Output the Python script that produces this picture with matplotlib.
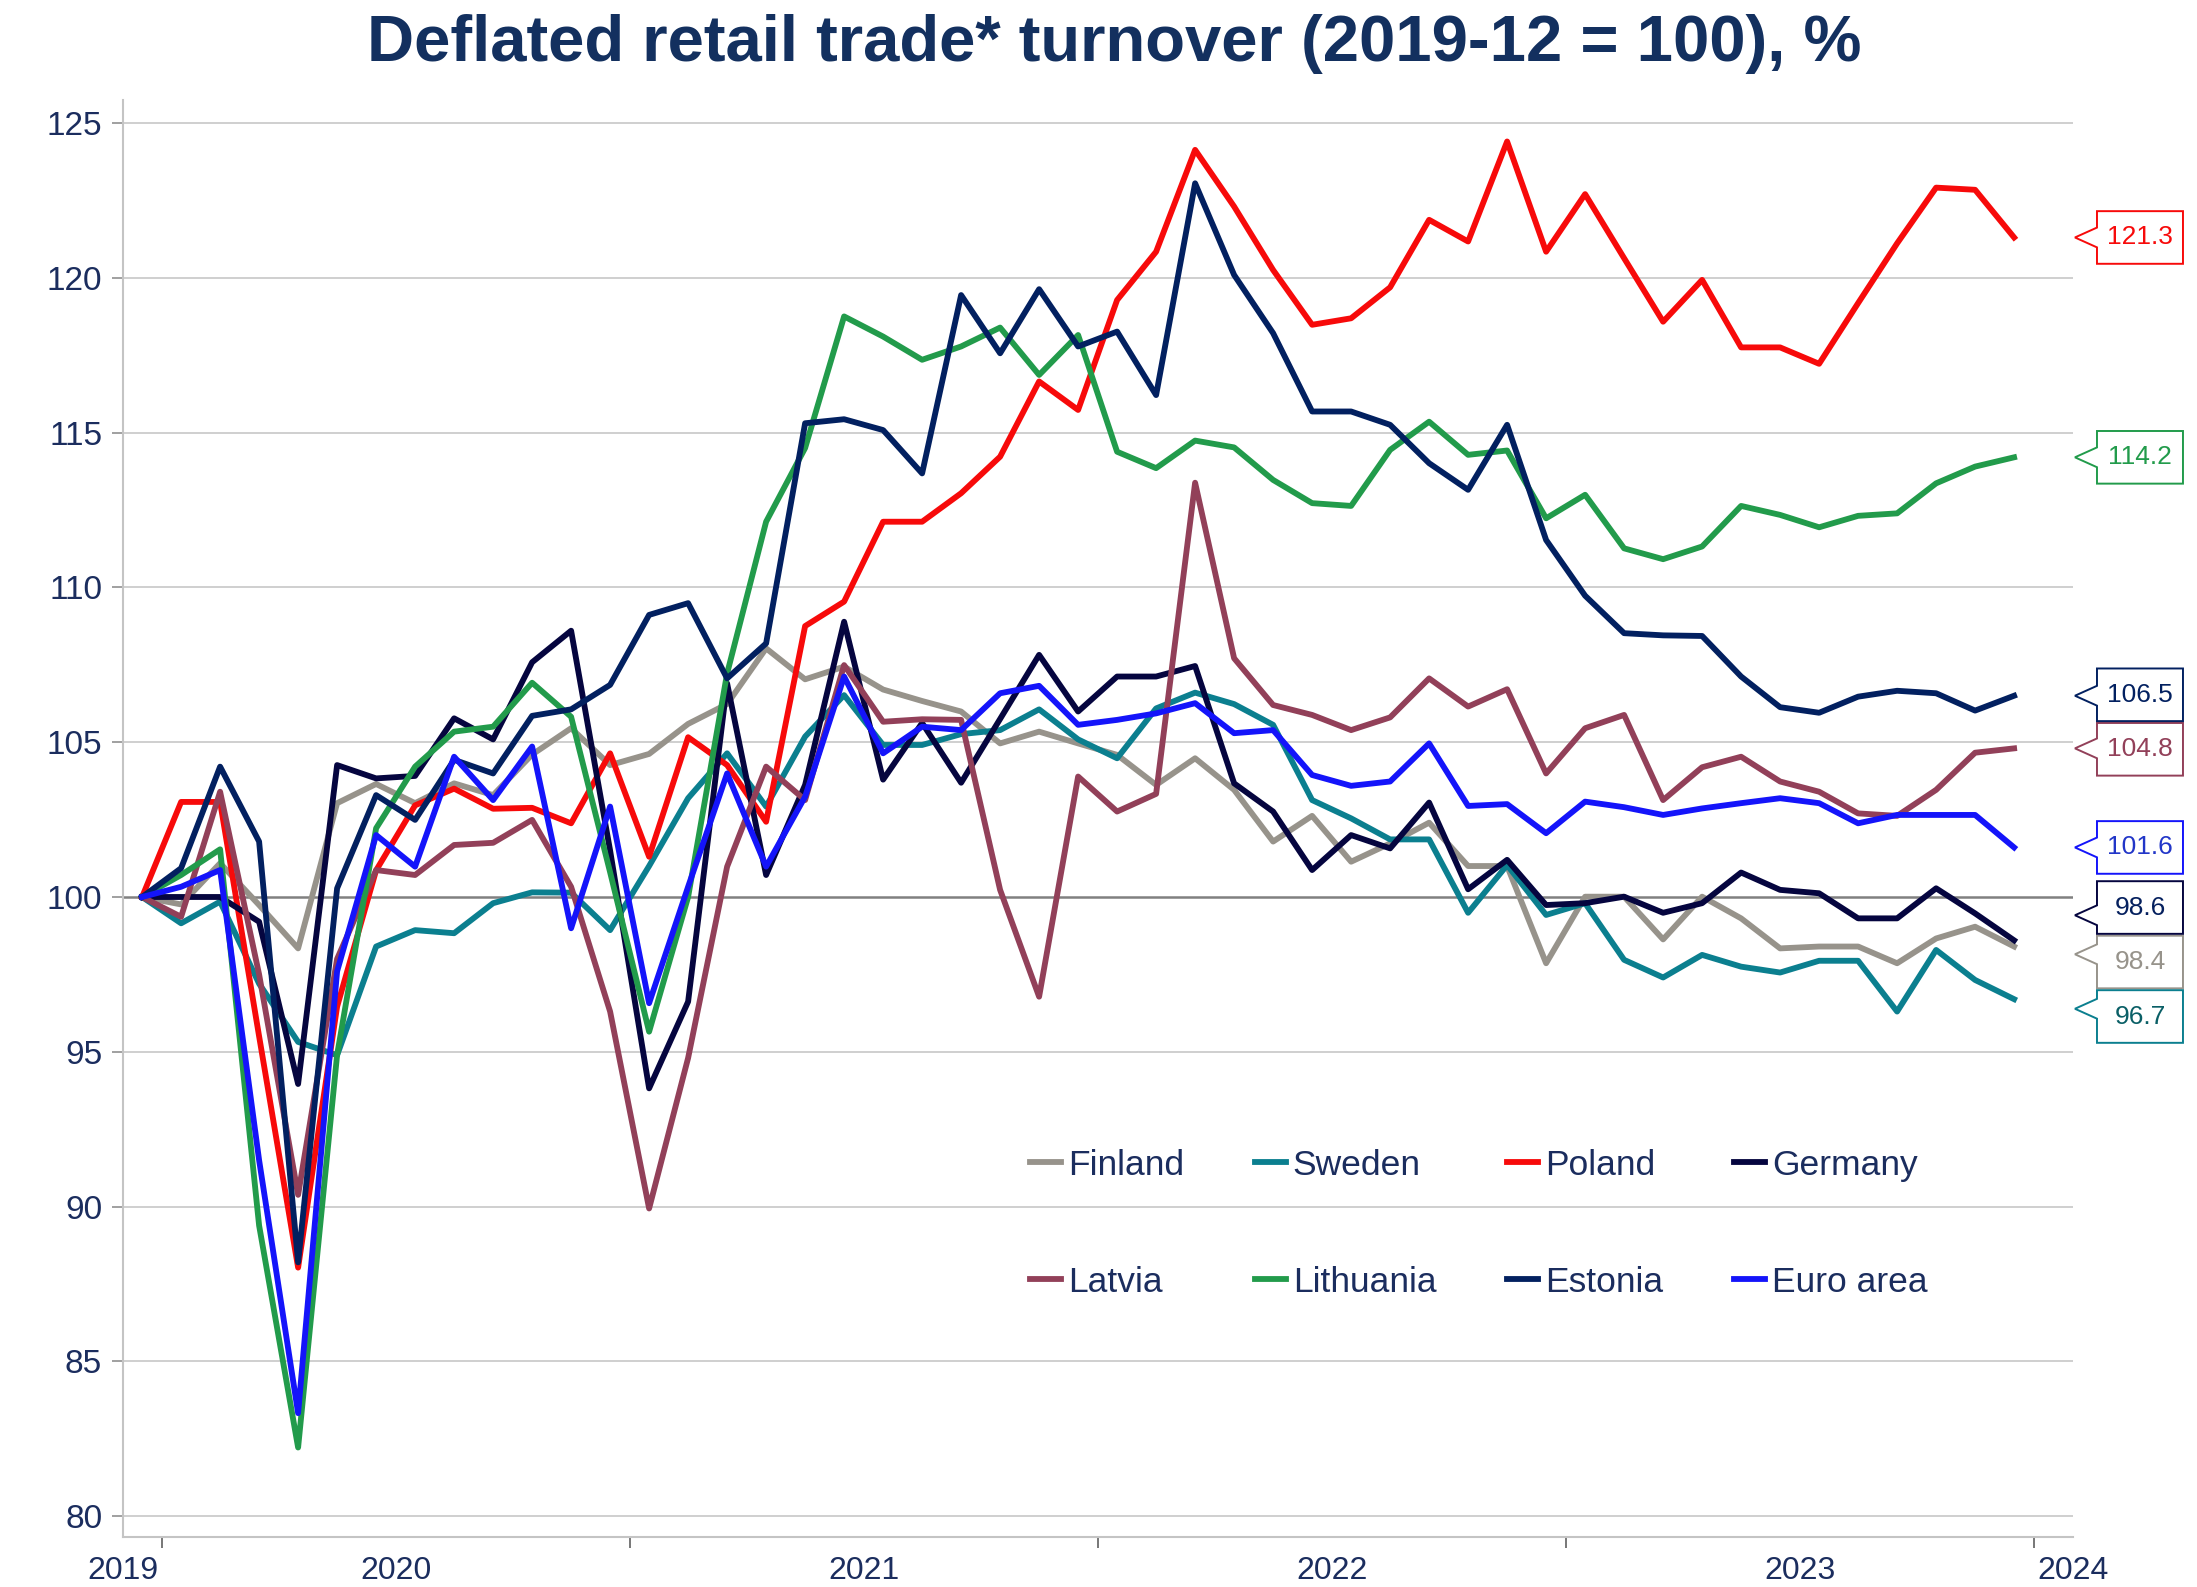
import matplotlib
matplotlib.use('Agg')
import matplotlib.pyplot as plt
import numpy as np
import pandas as pd
from matplotlib.patches import Polygon
from matplotlib.transforms import blended_transform_factory

plt.rcParams['font.family'] = ['Liberation Sans', 'DejaVu Sans']

# monthly index, 2019-12 = 100
months = pd.period_range('2019-12', '2023-12', freq='M')

finland = [100, 99.76, 101.09, 99.74, 98.34, 103.03, 103.65, 103.03, 103.67, 103.29,
           104.6, 105.45, 104.26, 104.62, 105.59, 106.23, 108.03, 107.03, 107.44, 106.7,
           106.33, 105.99, 104.96, 105.34, 104.96, 104.59, 103.62, 104.48, 103.46, 101.79,
           102.62, 101.14, 101.73, 102.4, 101.0, 101.0, 97.86, 100.01, 100.01, 98.63,
           100.01, 99.31, 98.34, 98.4, 98.4, 97.86, 98.66, 99.04, 98.4]
sweden = [100, 99.15, 99.85, 97.2, 95.32, 94.89, 98.4, 98.93, 98.83, 99.8,
          100.15, 100.14, 98.93, 101.0, 103.19, 104.64, 102.92, 105.18, 106.52, 104.91,
          104.91, 105.26, 105.39, 106.06, 105.09, 104.48, 106.09, 106.6, 106.23, 105.56,
          103.13, 102.54, 101.86, 101.86, 99.49, 101.03, 99.42, 99.8, 97.97, 97.4,
          98.13, 97.75, 97.56, 97.94, 97.94, 96.3, 98.29, 97.32, 96.7]
poland = [100, 103.07, 103.07, 95.5, 88.03, 96.46, 100.86, 102.96, 103.5, 102.85,
          102.88, 102.38, 104.64, 101.3, 105.16, 104.26, 102.43, 108.75, 109.54, 112.12,
          112.12, 113.04, 114.22, 116.65, 115.73, 119.28, 120.84, 124.13, 122.3, 120.25,
          118.48, 118.69, 119.69, 121.87, 121.17, 124.4, 120.84, 122.7, 120.63, 118.58,
          119.93, 117.75, 117.75, 117.22, 119.18, 121.11, 122.91, 122.84, 121.3]
germany = [100, 100, 100, 99.2, 93.96, 104.26, 103.83, 103.91, 105.77, 105.09,
           107.58, 108.6, 101.5, 93.82, 96.62, 106.9, 100.71, 103.62, 108.89, 103.79,
           105.62, 103.69, 105.75, 107.82, 105.99, 107.12, 107.12, 107.46, 103.67, 102.76,
           100.87, 102.0, 101.57, 103.05, 100.25, 101.2, 99.74, 99.8, 100.01, 99.49,
           99.8, 100.79, 100.23, 100.12, 99.31, 99.31, 100.28, 99.47, 98.6]
latvia = [100, 99.36, 103.4, 97.5, 90.38, 98.0, 100.87, 100.71, 101.68, 101.75,
          102.49, 100.33, 96.3, 89.94, 94.8, 100.98, 104.21, 103.13, 107.49, 105.66,
          105.74, 105.72, 100.23, 96.78, 103.89, 102.76, 103.33, 113.38, 107.71, 106.2,
          105.88, 105.39, 105.8, 107.06, 106.15, 106.71, 103.99, 105.45, 105.88, 103.13,
          104.19, 104.53, 103.73, 103.4, 102.7, 102.62, 103.46, 104.66, 104.8]
lithuania = [100, 100.71, 101.54, 89.39, 82.22, 94.9, 102.22, 104.21, 105.34, 105.5,
             106.92, 105.82, 100.8, 95.65, 100.0, 107.22, 112.12, 114.5, 118.75, 118.1,
             117.35, 117.78, 118.39, 116.86, 118.15, 114.38, 113.85, 114.74, 114.52, 113.47,
             112.72, 112.63, 114.44, 115.35, 114.28, 114.42, 112.23, 112.99, 111.26, 110.91,
             111.32, 112.63, 112.34, 111.94, 112.31, 112.39, 113.36, 113.9, 114.2]
estonia = [100, 100.93, 104.21, 101.79, 88.2, 100.28, 103.29, 102.49, 104.43, 103.99,
           105.85, 106.06, 106.85, 109.11, 109.49, 107.06, 108.19, 115.3, 115.43, 115.08,
           113.68, 119.44, 117.56, 119.63, 117.78, 118.26, 116.21, 123.05, 120.09, 118.21,
           115.68, 115.68, 115.25, 114.01, 113.15, 115.25, 111.53, 109.73, 108.52, 108.45,
           108.43, 107.12, 106.13, 105.95, 106.47, 106.66, 106.58, 106.02, 106.5]
euro_area = [100, 100.33, 100.87, 91.5, 83.33, 97.6, 102.0, 100.98, 104.53, 103.13,
             104.86, 98.99, 102.92, 96.57, 100.33, 103.99, 100.98, 103.24, 107.12, 104.64,
             105.5, 105.39, 106.58, 106.82, 105.56, 105.72, 105.93, 106.26, 105.29, 105.39,
             103.94, 103.59, 103.73, 104.96, 102.94, 103.0, 102.06, 103.08, 102.9, 102.65,
             102.86, 103.03, 103.19, 103.03, 102.38, 102.65, 102.65, 102.65, 101.6]

names = ['Finland', 'Sweden', 'Poland', 'Germany', 'Latvia', 'Lithuania', 'Estonia', 'Euro area']
data = [finland, sweden, poland, germany, latvia, lithuania, estonia, euro_area]
colors = ['#97938b', '#0b7f8f', '#f70a0a', '#05053f', '#924059', '#229b4b', '#022060', '#1414fa']
text_colors = ['#97938b', '#0a5f66', '#f70a0a', '#05205e', '#924059', '#229b4b', '#022060', '#2236c8']

navy = '#1b2d5e'
title = 'Deflated retail trade* turnover (2019-12 = 100), %'

fig = plt.figure(figsize=(21.97, 15.87), dpi=100)
ax = fig.add_axes([123 / 2197, 50 / 1587, 1950 / 2197, 1437 / 1587])

x = np.arange(len(months))
handles = []
for name, vals, col in zip(names, data, colors):
    ln, = ax.plot(x, vals, color=col, lw=4.2, label=name, zorder=3)
    handles.append(ln)

ax.set_xlim(-0.49, 49.51)
ax.set_ylim(79.33, 125.74)

# horizontal grid, 100 line darker
yt = np.arange(80, 126, 5)
ax.set_yticks(yt)
for v in yt:
    if v == 100:
        ax.axhline(v, color='#808080', lw=1.8, zorder=2)
    else:
        ax.axhline(v, color='#cccccc', lw=1.3, zorder=1)

# year boundaries as tick marks, year names in between
years = [p.year for p in months]
bounds = [i - 0.5 for i in range(1, len(months)) if years[i] != years[i - 1]] + [len(months) - 0.5]
lo, hi = ax.get_xlim()
lab_pos = [lo]
lab_txt = [str(years[0])]
for a, b in zip(bounds[:-1], bounds[1:]):
    lab_pos.append((a + b) / 2)
    lab_txt.append(str(years[int(a + 0.5)]))
lab_pos.append(hi)
lab_txt.append(str(years[-1] + 1))

ax.set_xticks(bounds)
ax.set_xticklabels([])
ax.set_xticks(lab_pos, minor=True)
ax.set_xticklabels(lab_txt, minor=True)
ax.tick_params(axis='x', which='major', length=8, width=1.2, color='#606060')
ax.tick_params(axis='x', which='minor', length=0, pad=14, labelsize=23, labelcolor=navy)
ax.tick_params(axis='y', length=8, width=1.2, color='#909090', labelsize=24,
               labelcolor=navy, pad=7)

for s in ['top', 'right']:
    ax.spines[s].set_visible(False)
for s in ['left', 'bottom']:
    ax.spines[s].set_color('#c4c4c4')
    ax.spines[s].set_linewidth(1.5)

fig.text(0.507, 0.972, title, ha='center', va='center', fontsize=47,
         fontweight='bold', color='#13305f')

# legend: rows Finland..Germany / Latvia..Euro area
order = [0, 4, 1, 5, 2, 6, 3, 7]
ax.legend([handles[i] for i in order], [names[i] for i in order], ncol=4,
          loc='center left', bbox_to_anchor=(0.456, 0.218), frameon=False,
          fontsize=25.5, handlelength=0.87, handletextpad=0.2, columnspacing=2.0,
          labelspacing=2.38, borderpad=0, labelcolor=navy)


# end value callouts, spread apart when they overlap
def spread(values, gap):
    idx = sorted(range(len(values)), key=lambda i: -values[i])
    groups = [[i] for i in idx]

    def pos(g):
        c = np.mean([values[i] for i in g])
        n = len(g)
        return [c + gap * ((n - 1) / 2 - k) for k in range(n)]

    merged = True
    while merged:
        merged = False
        for j in range(len(groups) - 1):
            if pos(groups[j])[-1] - pos(groups[j + 1])[0] < gap:
                groups[j] = groups[j] + groups[j + 1]
                del groups[j + 1]
                merged = True
                break
    out = {}
    for g in groups:
        for i, p in zip(g, pos(g)):
            out[i] = p
    return [out[i] for i in range(len(values))]


last = [d[-1] for d in data]
gap = 1.76
half = 0.85
centers = spread(last, gap)
tr = blended_transform_factory(ax.transAxes, ax.transData)
x_tip, x_l, x_r = 1.001, 1.0123, 1.0564
for v, c, col, tcol in zip(last, centers, colors, text_colors):
    top, bot = c + half, c - half
    py = min(max(v, bot + 0.6), top - 0.6)
    pts = [(x_l, top), (x_r, top), (x_r, bot), (x_l, bot), (x_l, py - 0.32),
           (x_tip, py), (x_l, py + 0.32)]
    ax.add_patch(Polygon(pts, closed=True, transform=tr, clip_on=False,
                         facecolor='white', edgecolor=col, lw=1.4, zorder=5))
    ax.text((x_l + x_r) / 2, c, f'{v:.1f}', transform=tr, ha='center', va='center',
            fontsize=19, color=tcol, clip_on=False, zorder=6)

plt.savefig('out.png', dpi=100)
